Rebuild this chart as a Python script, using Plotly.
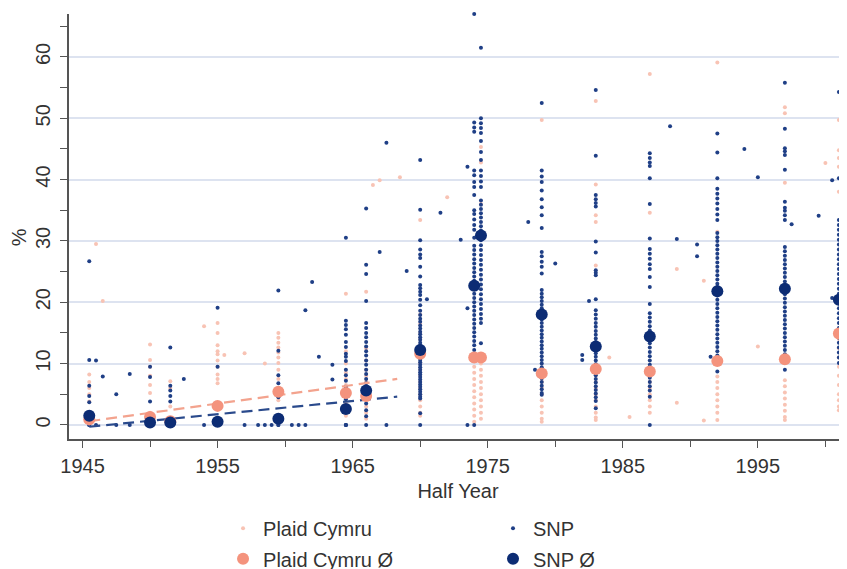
import plotly.graph_objects as go

# ---------------- data ----------------
ELECTION_YEARS = [1945.5, 1950, 1951.5, 1955, 1959.5, 1964.5, 1966, 1970,
                  1974, 1974.5, 1979, 1983, 1987, 1992, 1997, 2001]

SNP_MEAN = [1.5, 0.4, 0.4, 0.5, 1.0, 2.6, 5.6, 12.2,
            22.7, 30.9, 18.0, 12.8, 14.4, 21.8, 22.2, 20.4]
PC_MEAN = [0.9, 1.3, 0.6, 3.1, 5.4, 5.2, 4.7, 11.6,
           11.0, 11.0, 8.4, 9.1, 8.7, 10.4, 10.7, 14.9]

SNP_1945 = [26.7, 10.6, 6.4, 4.7, 3.7, 0.3, 0.0, 0.0]
SNP_1950 = [9.5, 7.8, 3.8, 0.0, 0.0, 0.0]
SNP_1951 = [12.6, 6.4, 5.6, 4.7, 3.8, 0.0, 0.0]
SNP_1955 = [19.1, 9.5, 0.0, 0.0, 0.0]
SNP_1959 = [21.9, 12.1, 8.1, 6.8, 4.5, 0.0, 0.0]
SNP_1964 = [30.5, 17.0, 16.3, 15.6, 14.7, 13.5, 12.7, 11.6, 11.1, 10.4, 9.0, 8.1,
            7.2, 6.2, 5.1, 4.2, 3.0, 0.0, 0.0, 0.0]
SNP_1966 = [35.3, 26.1, 24.6, 20.2, 16.6, 15.8, 15.0, 14.3, 13.5, 12.8, 12.0, 11.3,
            10.5, 9.8, 9.0, 8.3, 7.5, 6.8, 6.0, 5.3, 4.6, 3.5, 2.4, 1.4, 0.0]
SNP_1970 = [43.2, 35.1, 30.1, 28.6, 27.8, 27.2, 25.8, 24.2, 22.8, 22.3, 21.7, 21.2,
            20.4, 19.5, 18.6, 17.9, 17.3, 16.8, 16.2, 15.7, 15.2, 14.8, 14.3, 13.9,
            13.4, 13.0, 12.6, 12.2, 11.8, 11.4, 11.0, 10.6, 10.2, 9.8, 9.4, 9.0, 8.6,
            8.2, 7.8, 7.4, 7.0, 6.6, 6.2, 5.8, 5.4, 5.0, 4.6, 4.3, 1.9, 0.0]
SNP_1974F = [67.0, 49.3, 48.5, 47.8, 41.5, 40.7, 39.6, 38.8, 37.5, 35.0, 34.4, 33.5,
             32.6, 31.8, 30.5, 29.2, 28.5, 27.8, 27.0, 26.3, 25.6, 24.9, 24.2, 23.5,
             22.8, 22.1, 21.4, 20.7, 20.0, 19.3, 18.6, 17.9, 17.2, 16.5, 15.8, 15.1,
             14.4, 13.7, 13.0, 12.2, 0.0]
SNP_1974O = [61.5, 50.0, 49.2, 48.4, 47.6, 46.3, 44.5, 43.2, 41.5, 40.6, 39.7, 38.8,
             36.6, 35.9, 35.2, 34.5, 33.8, 33.1, 32.4, 31.7, 31.0, 30.1, 29.3, 28.5,
             27.7, 26.9, 26.1, 25.3, 24.5, 23.7, 22.9, 22.1, 21.3, 20.5, 19.7, 18.9,
             18.1, 17.3, 16.6, 13.3]
SNP_1979 = [52.5, 41.5, 40.5, 39.6, 38.2, 36.8, 35.5, 34.2, 32.1, 28.2, 27.5, 26.6,
            25.8, 24.7, 22.0, 21.4, 20.8, 20.2, 19.6, 19.0, 18.4, 17.8, 17.2, 16.6,
            16.0, 15.4, 14.8, 14.2, 13.6, 13.0, 12.4, 11.8, 11.2, 10.6, 10.0, 9.4,
            8.8, 8.2, 7.6, 7.0, 6.4, 5.8, 5.2, 4.9]
SNP_1983 = [54.6, 43.9, 37.5, 36.8, 36.2, 35.6, 29.9, 28.1, 25.2, 24.8, 24.4, 20.5,
            18.7, 18.0, 17.3, 16.6, 16.0, 15.3, 14.7, 14.1, 13.5, 12.9, 12.3, 11.7,
            11.1, 10.5, 9.9, 9.3, 8.7, 8.1, 7.5, 6.9, 6.3, 5.7, 5.1, 4.5, 3.9, 2.7]
SNP_1987 = [44.3, 43.5, 42.8, 42.2, 40.2, 36.0, 30.4, 28.7, 27.9, 27.1, 26.2, 25.4,
            24.1, 22.5, 19.7, 18.2, 17.5, 16.8, 16.1, 15.4, 14.7, 14.0, 13.3, 12.6,
            11.9, 11.2, 10.5, 9.8, 9.1, 8.4, 7.7, 7.0, 6.3, 5.6, 4.6, 0.0]
SNP_1992 = [47.5, 44.4, 40.2, 38.5, 37.7, 36.9, 36.1, 35.2, 34.3, 33.4, 31.3, 30.6,
            30.0, 29.3, 28.6, 27.9, 27.2, 26.5, 25.8, 25.1, 24.4, 23.7, 23.0, 22.5,
            21.8, 21.1, 20.4, 19.7, 19.0, 18.3, 17.6, 16.9, 16.2, 15.5, 14.8, 14.1,
            13.4, 12.7, 12.0, 11.3, 10.6, 9.9, 8.7]
SNP_1997 = [55.8, 48.3, 45.1, 44.6, 44.0, 41.6, 36.4, 35.4, 34.9, 34.2, 33.4, 29.0,
            28.3, 27.6, 26.9, 26.2, 25.5, 24.8, 24.1, 23.4, 22.7, 22.0, 21.3, 20.6,
            19.9, 19.2, 18.5, 17.8, 17.1, 16.4, 15.7, 15.0, 14.3, 13.6, 12.9, 12.2,
            11.5, 10.6, 9.0]
SNP_2001 = [54.3, 40.2, 33.4, 32.6, 31.8, 31.0, 30.2, 29.4, 28.6, 27.8, 27.0, 26.2,
            25.4, 24.6, 23.8, 23.0, 22.2, 21.4, 20.6, 19.8, 19.0, 18.2, 17.4, 16.6,
            15.8, 15.0, 14.2, 13.4, 12.6, 11.8, 11.0, 10.1]
SNP_GE = [SNP_1945, SNP_1950, SNP_1951, SNP_1955, SNP_1959, SNP_1964, SNP_1966,
          SNP_1970, SNP_1974F, SNP_1974O, SNP_1979, SNP_1983, SNP_1987, SNP_1992,
          SNP_1997, SNP_2001]

PC_1945 = [8.2, 7.0, 6.0, 5.0, 3.8, 2.0, 0.5]
PC_1950 = [13.1, 10.6, 9.5, 8.0, 6.5, 5.2, 2.0]
PC_1951 = [7.1, 6.0, 3.0]
PC_1955 = [16.6, 15.0, 13.0, 12.0, 11.5, 10.5, 9.5, 8.2, 7.5, 6.8]
PC_1959 = [15.0, 14.2, 13.4, 12.6, 11.8, 11.0, 10.1, 9.0, 7.5, 6.0, 4.0]
PC_1964 = [21.4, 12.0, 10.0, 8.5, 7.5, 6.5, 5.5, 4.5, 3.5, 2.5, 1.5]
PC_1966 = [21.7, 12.5, 10.5, 9.0, 8.0, 7.0, 6.0, 5.0, 4.0, 3.0, 2.0, 1.0]
PC_1970 = [33.4, 18.0, 16.5, 15.0, 14.0, 13.0, 12.0, 11.0, 10.0, 9.0, 8.0, 7.0,
           6.0, 5.0, 4.0, 3.0, 2.0, 1.5]
PC_1974F = [10.5, 9.5, 8.5, 7.5, 6.5, 5.5, 4.5, 3.5, 2.5, 1.5, 0.5]
PC_1974O = [45.3, 42.8, 36.0, 10.0, 9.0, 8.0, 7.0, 6.0, 5.0, 4.0, 3.0, 2.0, 1.0]
PC_1979 = [49.7, 8.0, 7.0, 6.0, 5.0, 4.0, 3.0, 2.0, 1.0, 0.5]
PC_1983 = [52.8, 39.2, 34.2, 33.1, 26.0, 8.0, 7.0, 6.0, 5.0, 4.0, 3.0, 2.0, 1.2, 0.8]
PC_1987 = [57.2, 34.6, 8.0, 7.0, 6.0, 5.0, 4.0, 3.0, 2.0]
PC_1992 = [59.1, 31.5, 7.9, 7.0, 6.0, 5.0, 4.0, 3.0, 2.0, 0.8]
PC_1997 = [51.8, 50.8, 39.5, 7.3, 6.3, 5.3, 4.3, 3.3, 2.3, 1.3, 0.8]
PC_2001 = [49.7, 44.8, 43.5, 42.1, 38.0, 14.0, 12.5, 11.0, 9.5, 8.0, 6.5, 5.0, 4.0,
           3.0, 2.4]
PC_GE = [PC_1945, PC_1950, PC_1951, PC_1955, PC_1959, PC_1964, PC_1966, PC_1970,
         PC_1974F, PC_1974O, PC_1979, PC_1983, PC_1987, PC_1992, PC_1997, PC_2001]

# by-elections (half year, %)
SNP_BY_X = [1946, 1946.5, 1947.5, 1948.5, 1952.5, 1946, 1947.5, 1948.5, 1954, 1957,
            1958, 1958.5, 1959, 1960.5, 1961, 1961.5, 1961.5, 1962, 1962.5, 1963.5,
            1963.5, 1967, 1967.5, 1967.5, 1969, 1970.5, 1971.5, 1973, 1973.5, 1973.5,
            1973.5, 1978, 1978.5, 1980, 1982, 1982, 1982.5, 1988.5, 1989, 1990.5,
            1990.5, 1991.5, 1994, 1995, 1997.5, 1999.5, 2000.5, 2000.5]
SNP_BY_Y = [10.5, 7.9, 5.0, 8.3, 7.5, 0.0, 0.0, 0.0, 0.0, 0.0,
            0.0, 0.0, 0.0, 0.0, 0.0, 0.0, 18.7, 23.3, 11.1, 9.8,
            7.4, 28.2, 46.0, 0.0, 25.1, 20.5, 34.6, 30.2, 42.1, 19.0,
            0.0, 33.1, 9.0, 26.3, 11.4, 10.6, 20.2, 48.7, 30.3, 29.4,
            27.5, 11.1, 45.0, 40.4, 32.7, 34.1, 39.9, 20.7]
PC_BY_X = [1946, 1946.5, 1954, 1955.5, 1957, 1958.5, 1966.5, 1967, 1968.5, 1972,
           1984, 1985.5, 1989, 1989, 1991, 1991, 1995, 2000]
PC_BY_Y = [29.5, 20.2, 16.1, 11.4, 11.7, 10.0, 39.1, 39.9, 40.4, 37.1,
           11.0, 1.3, 25.4, 3.6, 23.5, 0.7, 12.8, 42.7]

# linear fits 1945-1968
FIT_X = [1945.5, 1968.3]
PC_FIT = [0.6, 7.5]
SNP_FIT = [-0.3, 4.6]

# ---------------- styling ----------------
NAVY = "#1f3f86"
NAVY_DARK = "#0c2c74"
PALE = "#f8c3b4"
SALMON = "#f4937d"
FONT = "Liberation Sans, Arial, sans-serif"
TXT = "#333333"

pc_x, pc_y = [], []
for yr, vals in zip(ELECTION_YEARS, PC_GE):
    pc_x += [yr] * len(vals)
    pc_y += vals
pc_x += PC_BY_X
pc_y += PC_BY_Y

snp_x, snp_y = [], []
for yr, vals in zip(ELECTION_YEARS, SNP_GE):
    snp_x += [yr] * len(vals)
    snp_y += vals
snp_x += SNP_BY_X
snp_y += SNP_BY_Y

fig = go.Figure()
fig.add_trace(go.Scatter(x=pc_x, y=pc_y, mode="markers", name="Plaid Cymru",
                         marker=dict(color=PALE, size=4), legend="legend",
                         cliponaxis=False))
fig.add_trace(go.Scatter(x=snp_x, y=snp_y, mode="markers", name="SNP",
                         marker=dict(color=NAVY, size=4), legend="legend2",
                         cliponaxis=False))
fig.add_trace(go.Scatter(x=FIT_X, y=PC_FIT, mode="lines", showlegend=False,
                         line=dict(color="#f3a38e", width=2.2, dash="11px,6px")))
fig.add_trace(go.Scatter(x=FIT_X, y=SNP_FIT, mode="lines", showlegend=False,
                         line=dict(color="#2a4a8c", width=2.2, dash="11px,6px")))
fig.add_trace(go.Scatter(x=ELECTION_YEARS, y=PC_MEAN, mode="markers",
                         name="Plaid Cymru Ø",
                         marker=dict(color=SALMON, size=12), legend="legend3",
                         cliponaxis=False))
fig.add_trace(go.Scatter(x=ELECTION_YEARS, y=SNP_MEAN, mode="markers",
                         name="SNP Ø",
                         marker=dict(color=NAVY_DARK, size=12), legend="legend4",
                         cliponaxis=False))

leg_common = dict(font=dict(family=FONT, size=20, color=TXT),
                  bgcolor="rgba(0,0,0,0)", xanchor="left", yanchor="middle",
                  itemsizing="trace")

# the page body adds an 8px offset; margins compensate for it
fig.update_layout(
    width=847, height=569,
    margin=dict(l=61, r=8, t=6, b=138, autoexpand=False),
    paper_bgcolor="white", plot_bgcolor="white",
    font=dict(family=FONT, size=20, color=TXT),
    legend=dict(x=0.198, y=-0.21, **leg_common),
    legend2=dict(x=0.545, y=-0.21, **leg_common),
    legend3=dict(x=0.198, y=-0.282, **leg_common),
    legend4=dict(x=0.545, y=-0.282, **leg_common),
    xaxis=dict(range=[1944.0, 2001.6], tick0=1945, dtick=10, automargin=False,
               showline=True, linecolor="#555555", linewidth=1.5,
               ticks="outside", ticklen=7, tickwidth=1.3, tickcolor="#555555",
               minor=dict(dtick=5, tick0=1945, ticks="outside", ticklen=6,
                          tickwidth=1.3, tickcolor="#555555", showgrid=False),
               showgrid=False, zeroline=False,
               tickfont=dict(size=20, color=TXT), ticklabelstandoff=1,
               title=dict(text="Half Year", font=dict(size=20, color=TXT), standoff=8)),
    yaxis=dict(range=[-2.3, 67.0], tick0=0, dtick=10, automargin=False,
               showline=True, linecolor="#555555", linewidth=1.5,
               ticks="outside", ticklen=7, tickwidth=1.3, tickcolor="#555555",
               minor=dict(dtick=5, tick0=0, ticks="outside", ticklen=7,
                          tickwidth=1.3, tickcolor="#555555", showgrid=False),
               showgrid=True, gridcolor="#dde3f0", gridwidth=1.6, zeroline=False,
               tickangle=-90, tickfont=dict(size=20, color=TXT), ticklabelstandoff=2),
    annotations=[dict(text="%", textangle=-90, xref="paper", yref="paper",
                      x=-0.064, y=0.475, xanchor="center", yanchor="middle",
                      showarrow=False,
                      font=dict(family=FONT, size=20, color=TXT))],
)

fig.write_html("out.html")
